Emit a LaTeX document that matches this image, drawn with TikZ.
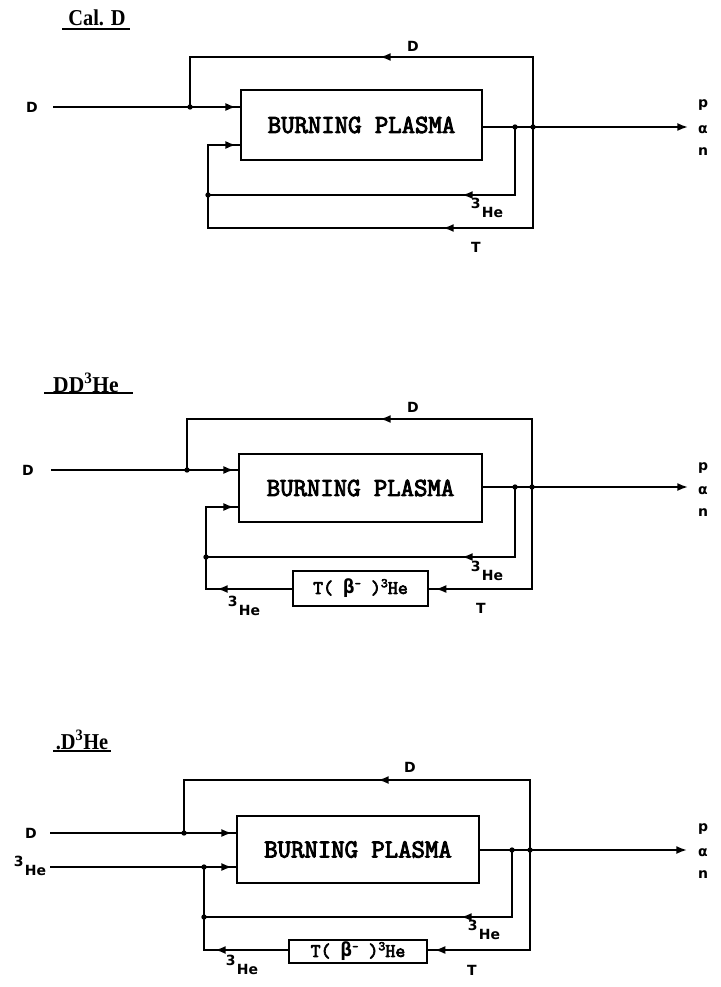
\documentclass[tikz,border=0pt]{standalone}
\usepackage{fontspec}
\setmainfont{Liberation Serif}
\newfontfamily\labfont{DejaVu Sans}
\newfontfamily\greekmono{DejaVu Sans Mono}
\newfontfamily\pmono[FakeBold=3.5]{Latin Modern Mono}
\usetikzlibrary{arrows.meta}
\newcommand\HeL{\raisebox{6.5pt}{3}\kern1pt He}
\newcommand\TBtext{T( {\greekmono\bfseries β}\raisebox{5pt}{\fontsize{9}{9}\selectfont -} )\raisebox{5pt}{\fontsize{10}{10}\selectfont 3}He}
\begin{document}
\begin{tikzpicture}[x=0.75pt,y=-0.75pt,
  wire/.style={line width=1.4pt},
  arr/.style={line width=1.4pt,-{Latex[length=8pt,width=6pt]}},
  dot/.style={circle,fill,inner sep=0pt,minimum size=4pt},
  plasma/.style={draw,line width=1.4pt,inner sep=0pt,font=\pmono\fontsize{19.5}{22}\selectfont},
  tbox/.style={draw,line width=1.4pt,inner sep=0pt,font=\pmono\fontsize{14.5}{15}\selectfont},
  lab/.style={inner sep=0pt,font=\labfont\bfseries\fontsize{10.5}{12}\selectfont},
  ttl/.style={inner sep=0pt,font=\bfseries\fontsize{17}{20}\selectfont},
]
\useasboundingbox (0,0) rectangle (720,987);

% ================= Panel 1 =================
\node[ttl] (t1) at (97,18) {\scalebox{0.9}[1]{Cal. D}};
\draw[wire] (62,29) -- (130,29);
\node[lab] (d1) at (32,107) {D};
\node[plasma,minimum width=180.75pt,minimum height=52.5pt] (bp1) at (361.5,125) {\raisebox{-3pt}{BURNING PLASMA}};
\coordinate (s1) at (53,107);
\coordinate (jd1) at (190,107);
\coordinate (tl1) at (190,57);
\coordinate (tr1) at (533,57);
\coordinate (a1) at (380,57);
\coordinate (j11) at (515,127);
\coordinate (j12) at (533,127);
\coordinate (e1) at (688,127);
\coordinate (hb1) at (515,195);
\coordinate (ha1) at (462,195);
\coordinate (hl1) at (208,195);
\coordinate (tb1) at (533,228);
\coordinate (ta1) at (443,228);
\coordinate (bl1) at (208,228);
\coordinate (in1) at (208,145);
\draw[wire] (s1) -- (bp1.west |- s1);
\draw[arr] (s1) -- ([xshift=-3pt]bp1.west |- s1);
\draw[wire] (jd1) -- (tl1) -- (tr1) -- (tb1) -- (bl1) -- (in1) -- (in1 -| bp1.west);
\draw[arr] (tr1) -- (a1);
\draw[arr] (tb1) -- (ta1);
\draw[arr] (in1) -- ([xshift=-3pt]in1 -| bp1.west);
\draw[arr] (bp1.east |- j11) -- (e1);
\draw[wire] (j11) -- (hb1) -- (hl1);
\draw[arr] (hb1) -- (ha1);
\node[dot] (dj1) at (jd1) {};
\node[dot] (dk1) at (j11) {};
\node[dot] (dm1) at (j12) {};
\node[dot] (dn1) at (hl1) {};
\node[lab] (dl1) at (413,46) {D};
\node[lab] (hr1) at (487,208) {\HeL};
\node[lab] (tt1) at (476,247) {T};
\node[lab] (p1) at (703,105) {p};
\node[lab] (al1) at (703,130) {α};
\node[lab] (n1) at (703,152) {n};

% ================= Panel 2 =================
\node[ttl] (t2) at (86,383) {\scalebox{0.95}[1]{DD\textsuperscript{3}He}};
\draw[wire] (44,393) -- (133,393);
\node[lab] (d2) at (28,470) {D};
\node[plasma,minimum width=182.25pt,minimum height=51pt] (bp2) at (360.5,488) {\raisebox{-3pt}{BURNING PLASMA}};
\node[tbox,minimum width=101.25pt,minimum height=26.25pt] (tx2) at (360.5,588.5) {\TBtext};
\coordinate (s2) at (51,470);
\coordinate (jd2) at (187,470);
\coordinate (tl2) at (187,419);
\coordinate (tr2) at (532,419);
\coordinate (a2) at (380,419);
\coordinate (j21) at (515,487);
\coordinate (j22) at (532,487);
\coordinate (e2) at (688,487);
\coordinate (hb2) at (515,557);
\coordinate (ha2) at (462,557);
\coordinate (hl2) at (206,557);
\coordinate (tb2) at (532,589);
\coordinate (bl2) at (206,589);
\coordinate (ba2) at (217,589);
\coordinate (in2) at (206,507);
\draw[wire] (s2) -- (bp2.west |- s2);
\draw[arr] (s2) -- ([xshift=-3pt]bp2.west |- s2);
\draw[wire] (jd2) -- (tl2) -- (tr2) -- (tb2) -- (tx2.east |- tb2);
\draw[arr] (tr2) -- (a2);
\draw[arr] (tb2) -- ([xshift=5pt]tx2.east |- tb2);
\draw[wire] (tx2.west |- bl2) -- (bl2) -- (in2) -- (in2 -| bp2.west);
\draw[arr] (tx2.west |- bl2) -- (ba2);
\draw[arr] (in2) -- ([xshift=-3pt]in2 -| bp2.west);
\draw[arr] (bp2.east |- j21) -- (e2);
\draw[wire] (j21) -- (hb2) -- (hl2);
\draw[arr] (hb2) -- (ha2);
\node[dot] (dj2) at (jd2) {};
\node[dot] (dk2) at (j21) {};
\node[dot] (dm2) at (j22) {};
\node[dot] (dn2) at (hl2) {};
\node[lab] (dl2) at (413,407) {D};
\node[lab] (hr2) at (487,571) {\HeL};
\node[lab] (tt2) at (481,608) {T};
\node[lab] (hw2) at (244,606) {\HeL};
\node[lab] (p2) at (703,468) {p};
\node[lab] (al2) at (703,491) {α};
\node[lab] (n2) at (703,513) {n};

% ================= Panel 3 =================
\node[ttl] (t3) at (82,740) {\scalebox{0.9}[1]{.D\textsuperscript{3}He}};
\draw[wire] (53,751) -- (111,751);
\node[lab] (d3) at (31,833) {D};
\node[lab] (h3) at (30,866) {\HeL};
\node[plasma,minimum width=181.5pt,minimum height=50.25pt] (bp3) at (358,849.5) {\raisebox{-3pt}{BURNING PLASMA}};
\node[tbox,minimum width=103.5pt,minimum height=17.25pt] (tx3) at (358,951.5) {\TBtext};
\coordinate (s3) at (50,833);
\coordinate (u3) at (50,867);
\coordinate (jd3) at (184,833);
\coordinate (jh3) at (204,867);
\coordinate (tl3) at (184,780);
\coordinate (tr3) at (530,780);
\coordinate (a3) at (378,780);
\coordinate (j31) at (512,850);
\coordinate (j32) at (530,850);
\coordinate (e3) at (687,850);
\coordinate (hb3) at (512,917);
\coordinate (ha3) at (461,917);
\coordinate (hl3) at (204,917);
\coordinate (tb3) at (530,950);
\coordinate (bl3) at (204,950);
\coordinate (ba3) at (215,950);
\draw[wire] (s3) -- (bp3.west |- s3);
\draw[arr] (s3) -- ([xshift=-3pt]bp3.west |- s3);
\draw[wire] (u3) -- (bp3.west |- u3);
\draw[arr] (u3) -- ([xshift=-3pt]bp3.west |- u3);
\draw[wire] (jd3) -- (tl3) -- (tr3) -- (tb3) -- (tx3.east |- tb3);
\draw[arr] (tr3) -- (a3);
\draw[arr] (tb3) -- ([xshift=5pt]tx3.east |- tb3);
\draw[wire] (tx3.west |- bl3) -- (bl3) -- (jh3);
\draw[arr] (tx3.west |- bl3) -- (ba3);
\draw[arr] (bp3.east |- j31) -- (e3);
\draw[wire] (j31) -- (hb3) -- (hl3);
\draw[arr] (hb3) -- (ha3);
\node[dot] (dj3) at (jd3) {};
\node[dot] (dh3) at (jh3) {};
\node[dot] (dk3) at (j31) {};
\node[dot] (dm3) at (j32) {};
\node[dot] (dn3) at (hl3) {};
\node[lab] (dl3) at (410,767) {D};
\node[lab] (hr3) at (484,930) {\HeL};
\node[lab] (tt3) at (472,970) {T};
\node[lab] (hw3) at (242,965) {\HeL};
\node[lab] (p3) at (703,829) {p};
\node[lab] (al3) at (703,853) {α};
\node[lab] (n3) at (703,875) {n};
\end{tikzpicture}
\end{document}
